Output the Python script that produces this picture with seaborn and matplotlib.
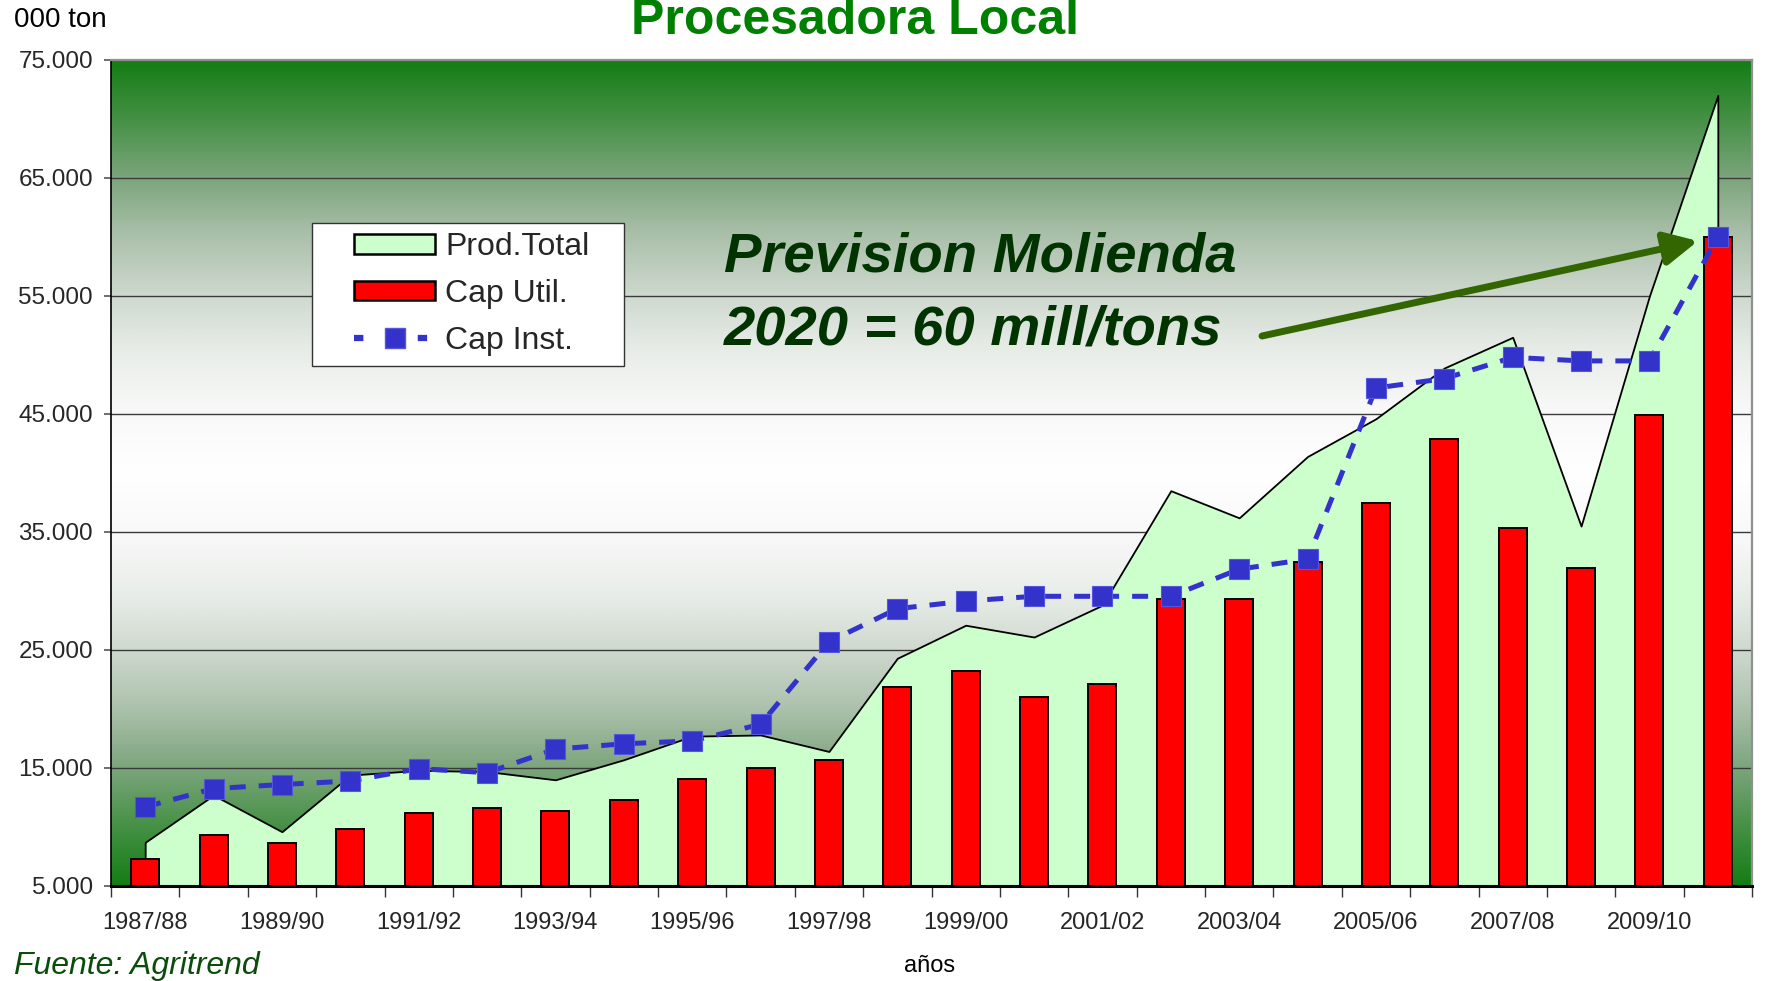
import numpy as np
import pandas as pd
import matplotlib
matplotlib.use("Agg")
import matplotlib.pyplot as plt
import seaborn as sns
from matplotlib.patches import Patch, Rectangle
from matplotlib.lines import Line2D
from matplotlib.colors import LinearSegmentedColormap

# ---------------- data ----------------
categories = ["1987/88", "1988/89", "1989/90", "1990/91", "1991/92", "1992/93",
              "1993/94", "1994/95", "1995/96", "1996/97", "1997/98", "1998/99",
              "1999/00", "2000/01", "2001/02", "2002/03", "2003/04", "2004/05",
              "2005/06", "2006/07", "2007/08", "2008/09", "2009/10", "2010/11"]
prod_total = [8700, 12700, 9600, 14400, 14800, 14700, 14000, 15700, 17700, 17800,
              16400, 24300, 27100, 26100, 28800, 38500, 36200, 41400, 44600, 48900,
              51500, 35500, 55000, 72000]
cap_util = [7300, 9300, 8650, 9800, 11150, 11650, 11350, 12300, 14100, 15000,
            15650, 21900, 23250, 21050, 22100, 29300, 29300, 32450, 37500, 42900,
            35300, 31950, 44900, 60000]
cap_inst = [11700, 13250, 13600, 13900, 14950, 14600, 16600, 17050, 17300, 18700,
            25700, 28500, 29150, 29550, 29550, 29550, 31850, 32700, 47200, 48000,
            49800, 49500, 49500, 60000]
y_ticks = [5000, 15000, 25000, 35000, 45000, 55000, 65000, 75000]

# ---------------- style ----------------
sns.set_theme(style="white")
plt.rcParams["font.family"] = ["Liberation Sans", "DejaVu Sans"]

W, H = 1775, 981
fig = plt.figure(figsize=(W / 100, H / 100), dpi=100)
L, R, T, B = 111, 1752, 60, 886
ax = fig.add_axes([L / W, 1 - B / H, (R - L) / W, (B - T) / H])

# background gradient (green - white - green)
stops = [(0.0, (20, 125, 20)), (1/14, (70, 145, 70)), (2/14, (125, 165, 125)),
         (3/14, (172, 193, 172)), (4/14, (207, 217, 207)), (5/14, (234, 238, 234)),
         (6/14, (249, 249, 249)), (7/14, (255, 255, 255)),
         (8/14, (249, 249, 249)), (9/14, (234, 238, 234)), (10/14, (207, 217, 207)),
         (11/14, (172, 193, 172)), (12/14, (125, 165, 125)), (13/14, (70, 145, 70)),
         (1.0, (20, 125, 20))]
cmap = LinearSegmentedColormap.from_list(
    "bg", [(p, tuple(c / 255 for c in col)) for p, col in stops])
grad = np.linspace(0, 1, 512).reshape(-1, 1)
ax.imshow(grad, cmap=cmap, extent=(-0.5, len(categories) - 0.5, 5000, 75000),
          origin="upper", aspect="auto", zorder=0, interpolation="bilinear")

for v in y_ticks[1:-1]:
    ax.axhline(v, color="#3a3a3a", lw=1.0, zorder=1)

x_idx = np.arange(len(categories))

# area: Prod.Total
ax.fill_between(x_idx, 5000, prod_total, facecolor="#CCFFCC", edgecolor="black",
                linewidth=1.3, zorder=2)

# bars: Cap Util.
df = pd.DataFrame({"cat": categories, "util": cap_util})
sns.barplot(data=df, x="cat", y="util", order=categories, color="#FF0000",
            saturation=1, edgecolor="black", linewidth=1.4, width=0.41,
            ax=ax, zorder=3)

# line: Cap Inst.
sns.lineplot(x=x_idx, y=cap_inst, ax=ax, color="#3333CC", lw=3.6, marker="s",
             markersize=14, markerfacecolor="#3333CC", markeredgecolor="#5555DD",
             markeredgewidth=0.8, zorder=5)
ax.lines[-1].set_dashes((3.2, 2.6))

ax.set_xlim(-0.5, len(categories) - 0.5)
ax.set_ylim(5000, 75000)
ax.set_xlabel("")
ax.set_ylabel("")

# y axis
ax.set_yticks(y_ticks)
ax.set_yticklabels([f"{v:,}".replace(",", ".") for v in y_ticks], fontsize=17.5)
ax.tick_params(axis="y", direction="out", length=5, width=1.2, color="#555555",
               pad=8, left=True)

# x axis: tick marks at category boundaries, labels on every other category
ax.set_xticks(np.arange(-0.5, len(categories), 1.0))
ax.set_xticklabels([])
ax.set_xticks(x_idx[::2], minor=True)
ax.set_xticklabels(categories[::2], minor=True, fontsize=17)
ax.tick_params(axis="x", which="major", direction="out", length=8, width=1.0,
               color="#333333", bottom=True)
ax.tick_params(axis="x", which="minor", length=0, pad=19, bottom=True)

for s in ["left", "bottom"]:
    ax.spines[s].set_color("black")
ax.spines["left"].set_linewidth(1.2)
ax.spines["bottom"].set_linewidth(2.2)
for s in ["top", "right"]:
    ax.spines[s].set_color("#909090")
    ax.spines[s].set_linewidth(1.6)
for s in ax.spines.values():
    s.set_zorder(6)

# legend (frame drawn separately for exact placement)
box = Rectangle((312 / W, 1 - 366 / H), (624 - 312) / W, (366 - 223) / H,
                transform=fig.transFigure, facecolor="white", edgecolor="#333333",
                linewidth=1.0, zorder=9)
fig.add_artist(box)
handles = [Patch(facecolor="#CCFFCC", edgecolor="black", linewidth=1.8),
           Patch(facecolor="#FF0000", edgecolor="black", linewidth=1.8),
           Line2D([0], [0], color="#3333CC", lw=4.5, dashes=(1.5, 3.6), marker="s",
                  markersize=14, markerfacecolor="#3333CC", markeredgecolor="#5555DD")]
leg = fig.legend(handles, ["Prod.Total", "Cap Util.", "Cap Inst."],
                 loc="center left", bbox_to_anchor=(354 / W, 1 - 294 / H),
                 fontsize=23, frameon=False,
                 handlelength=2.55, handleheight=0.55, handletextpad=0.3,
                 labelspacing=0.52, borderpad=0, borderaxespad=0, numpoints=1)
leg.set_zorder(10)

# texts
fig.text(0.4815, 1 - 34 / H, "Procesadora Local", fontsize=36, fontweight="bold",
         color="#008000", ha="center", va="baseline")
fig.text(14 / W, 1 - 20 / H, "000 ton", fontsize=20, ha="left", va="center",
         color="black")
fig.text(930 / W, 1 - 966 / H, "años", fontsize=17, ha="center", va="center",
         color="black")
fig.text(14 / W, 1 - 974 / H, "Fuente: Agritrend", fontsize=23, style="italic",
         color="#0A4D0A", ha="left", va="baseline")
fig.text(724 / W, 1 - 272 / H, "Prevision Molienda", fontsize=40.5, fontweight="bold",
         style="italic", color="#003300", ha="left", va="baseline")
fig.text(724 / W, 1 - 345 / H, "2020 = 60 mill/tons", fontsize=40.5, fontweight="bold",
         style="italic", color="#003300", ha="left", va="baseline")

ax.annotate("", xy=(1698 / W, 1 - 241 / H), xytext=(1262 / W, 1 - 336 / H),
            xycoords="figure fraction", textcoords="figure fraction",
            arrowprops=dict(arrowstyle="-|>,head_length=1.0,head_width=0.5",
                            mutation_scale=20, color="#336600", lw=5,
                            shrinkA=0, shrinkB=0), zorder=8)

fig.savefig("out.png", dpi=100)
